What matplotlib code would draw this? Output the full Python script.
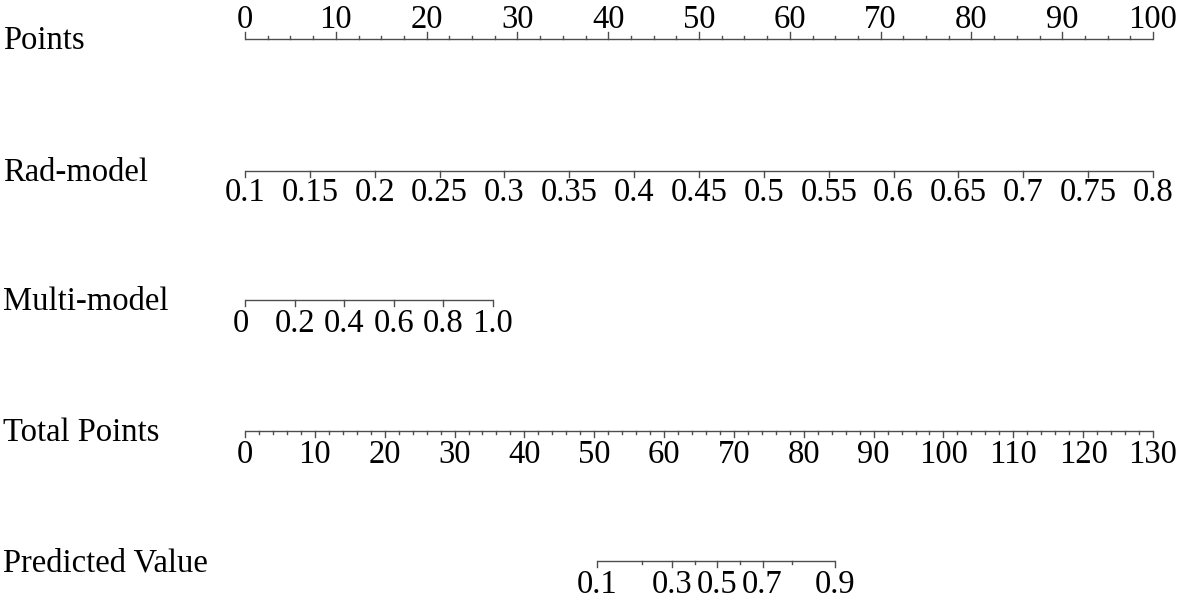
import numpy as np
import matplotlib.pyplot as plt

plt.rcParams['font.family'] = ['Liberation Serif', 'DejaVu Serif']

# row names of the nomogram
row_names = ["Points", "Rad-model", "Multi-model", "Total Points", "Predicted Value"]

# Points scale (0-100)
points_major = np.arange(0, 101, 10)
points_minor = np.arange(0, 100.1, 2.5)

# Rad-model: 0.1 -> 0 points, 0.8 -> 100 points
rad_values = [0.1, 0.15, 0.2, 0.25, 0.3, 0.35, 0.4, 0.45, 0.5, 0.55, 0.6, 0.65, 0.7, 0.75, 0.8]
rad_points = (0, 100)

# Multi-model: 0 -> 0 points, 1.0 -> ~27.3 points
multi_values = [0, 0.2, 0.4, 0.6, 0.8, 1.0]
multi_labels = ["0", "0.2", "0.4", "0.6", "0.8", "1.0"]
multi_points = (0, 27.3)

# Total points scale (0-130)
total_major = np.arange(0, 131, 10)
total_minor = np.arange(0, 131, 2)
total_max = 130

# Predicted value ticks, positions on the total points scale
pred_values = [0.1, 0.2, 0.3, 0.4, 0.5, 0.6, 0.7, 0.8, 0.9]
pred_total = [50.4, 56.8, 61.1, 64.4, 67.6, 70.9, 74.1, 78.3, 84.5]
pred_labelled = [0.1, 0.3, 0.5, 0.7, 0.9]

# layout (pixel rows)
W, H = 1181, 600
x0, px_per_pt = 245, 9.08
row_y = [39, 171, 300, 431, 561]
fs = 23.5
lc = '#4d4d4d'
lw = 1.0

fig = plt.figure(figsize=(W / 100, H / 100), dpi=100)
ax = fig.add_axes([0, 0, 1, 1])
ax.set_xlim(-x0 / px_per_pt, (W - x0) / px_per_pt)
ax.set_ylim(H, 0)
ax.axis('off')

import matplotlib.transforms as mtransforms
left_trans = mtransforms.blended_transform_factory(ax.transAxes, ax.transData)


def axis_row(y, ticks, labels, lengths, up=False, label_off=30):
    ticks = np.asarray(ticks, dtype=float)
    ax.plot([ticks.min(), ticks.max()], [y, y], color=lc, lw=lw, solid_capstyle='butt')
    sgn = -1 if up else 1
    for t, L in zip(ticks, lengths):
        ax.plot([t, t], [y, y + sgn * L], color=lc, lw=lw)
    for t, s in labels:
        if up:
            ax.text(t, y - label_off, s, fontsize=fs, ha='center', va='baseline')
        else:
            ax.text(t, y + label_off, s, fontsize=fs, ha='center', va='baseline')


# left labels
for name, y in zip(row_names, row_y):
    ax.text(3 / W, y + 10, name, fontsize=fs, ha='left', va='baseline', transform=left_trans)

# Points
pm = list(points_minor)
lens = [7 if p % 10 == 0 else 3.5 for p in pm]
axis_row(row_y[0], pm, [(p, f"{p:g}") for p in points_major], lens, up=True, label_off=11)

# Rad-model
rad_pos = np.interp(rad_values, [rad_values[0], rad_values[-1]], rad_points)
axis_row(row_y[1], rad_pos, [(p, f"{v:g}") for p, v in zip(rad_pos, rad_values)],
         [6] * len(rad_pos), label_off=30)

# Multi-model
multi_pos = np.interp(multi_values, [multi_values[0], multi_values[-1]], multi_points)
axis_row(row_y[2], multi_pos, list(zip(multi_pos - np.array([0.5, 0, 0, 0, 0, 0]), multi_labels)),
         [6] * len(multi_pos), label_off=32)

# Total Points
tm = list(total_minor)
tpos = [t * 100 / total_max for t in tm]
lens = [6 if t % 10 == 0 else 3 for t in tm]
axis_row(row_y[3], tpos, [(t * 100 / total_max, f"{t:g}") for t in total_major], lens, label_off=32)

# Predicted Value
ppos = [t * 100 / total_max for t in pred_total]
lens = [6 if v in pred_labelled else 2.5 for v in pred_values]
axis_row(row_y[4], ppos, [(p, f"{v:g}") for p, v in zip(ppos, pred_values) if v in pred_labelled],
         lens, label_off=32)

fig.savefig("out.png", dpi=100, facecolor='white')
